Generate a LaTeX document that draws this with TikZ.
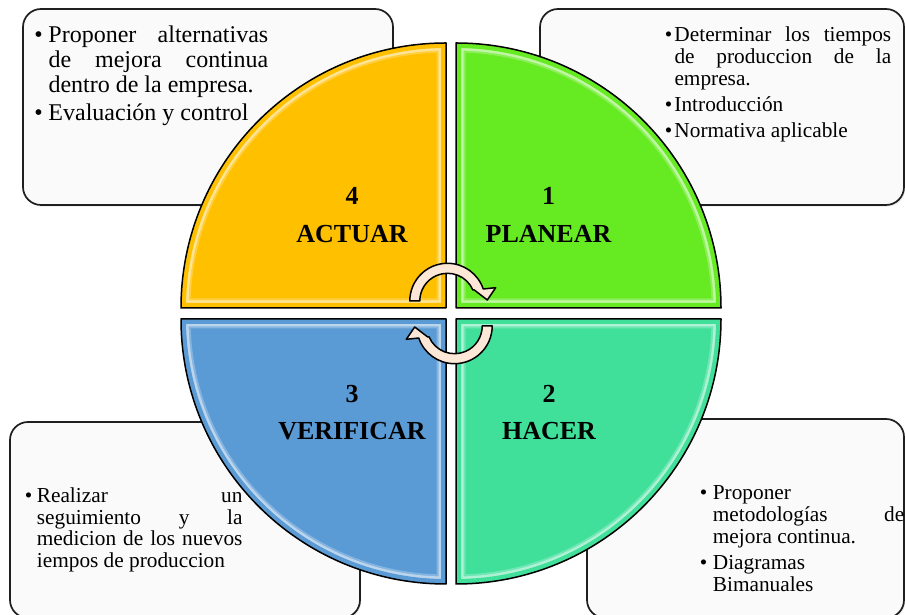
\documentclass[tikz,border=0pt]{standalone}
\usepackage{fontspec}
\setmainfont{Liberation Serif}
\usetikzlibrary{shadows}

\definecolor{actcol}{HTML}{FFC000}
\definecolor{plancol}{HTML}{66EA22}
\definecolor{hacercol}{HTML}{40E09B}
\definecolor{vercol}{HTML}{5B9BD5}
\definecolor{cyclecol}{HTML}{FDE7D6}
\definecolor{boxfill}{HTML}{FAFAFA}

% bullet paragraphs with a hanging indent of #1
\newcommand\firstitem[1]{\hangindent=#1\hangafter=1\makebox[#1][l]{\textbullet}}
\newcommand\bitem[1]{\par\hangindent=#1\hangafter=1\noindent\makebox[#1][l]{\textbullet}}

% quarter disc with a bevel highlight inside its edges
\newcommand\petal[2]{%
  \fill[#1] #2;
  \begin{scope}
    \clip #2;
    \draw[white, opacity=.25, line width=19pt] #2;
    \draw[white, opacity=.45, line width=15pt] #2;
    \draw[#1, line width=10pt] #2;
  \end{scope}
  \draw[black, line width=1.5pt, line join=round] #2;
}

\begin{document}
\begin{tikzpicture}[x=1pt, y=1pt,
  infobox/.style={draw=black!88, line width=1.7pt, rounded corners=18pt,
    fill=boxfill, inner sep=0pt,
    drop shadow={shadow xshift=1.2pt, shadow yshift=-1.6pt, opacity=.18}},
  boxtext/.style={anchor=base west, inner sep=0pt, align=justify},
  qlabel/.style={align=center, inner sep=0pt,
    font=\fontsize{26}{37.5}\selectfont\bfseries},
  cyclearrow/.style={fill=cyclecol, draw=black, line width=1.5pt, line join=round}]

\useasboundingbox (0,0) rectangle (905,615);

% text panels behind the cycle
\node[infobox, minimum width=370pt, minimum height=196pt] (boxTL) at (208,508) {};
\node[infobox, minimum width=364pt, minimum height=196pt] (boxTR) at (722,508) {};
\node[infobox, minimum width=350pt, minimum height=196pt] (boxBL) at (185,95) {};
\node[infobox, minimum width=317pt, minimum height=199pt] (boxBR) at (745.5,96.5) {};

\node[boxtext, text width=234pt, font=\fontsize{24}{25}\selectfont] (txtTL) at (34.1,572.5)
  {\tolerance=10000\hyphenpenalty=10000\parskip=3pt%
   \firstitem{14.2pt}Proponer alternativas\linebreak de mejora continua\linebreak dentro de la empresa.
   \bitem{14.2pt}Evaluación y control\par};

\node[boxtext, text width=226.4pt, font=\fontsize{21.3}{21.7}\selectfont] (txtTR) at (664.6,573.3)
  {\tolerance=10000\hyphenpenalty=10000\parskip=4.3pt%
   \firstitem{9.7pt}Determinar los tiempos\linebreak de produccion de la\linebreak empresa.
   \bitem{9.7pt}Introducción
   \bitem{9.7pt}Normativa aplicable\par};

\node[boxtext, text width=217.7pt, font=\fontsize{21.3}{21.8}\selectfont] (txtBL) at (24.6,112.7)
  {\tolerance=10000\hyphenpenalty=10000%
   \firstitem{12.1pt}Realizar un\linebreak seguimiento y la\linebreak medicion de los nuevos\linebreak iempos de produccion\par};

\node[boxtext, text width=204.4pt, font=\fontsize{21.3}{22}\selectfont] (txtBR) at (699.6,115)
  {\tolerance=10000\hyphenpenalty=10000\parskip=4pt%
   \firstitem{13.1pt}Proponer\linebreak metodologías de\linebreak mejora continua.
   \bitem{13.1pt}Diagramas\linebreak Bimanuales\par};

% the four quarters of the cycle
\def\qAct{(446,307) -- (181,307) arc[start angle=180, end angle=90, radius=265] -- cycle}
\def\qPlan{(456,307) -- (456,572) arc[start angle=90, end angle=0, radius=265] -- cycle}
\def\qVer{(446,296) -- (446,31) arc[start angle=270, end angle=180, radius=265] -- cycle}
\def\qHac{(456,296) -- (721,296) arc[start angle=0, end angle=-90, radius=265] -- cycle}

\petal{actcol}{\qAct}
\petal{plancol}{\qPlan}
\petal{vercol}{\qVer}
\petal{hacercol}{\qHac}

\node[qlabel] (lblAct) at (352,400) {4\\ACTUAR};
\node[qlabel] (lblPlan) at (548.5,400) {1\\PLANEAR};
\node[qlabel] (lblVer) at (352,202.5) {3\\VERIFICAR};
\node[qlabel] (lblHac) at (549,202.5) {2\\HACER};

% curved arrows turning in the middle
\def\cyc{(409.8,314) arc[start angle=180, end angle=18.6, radius=37.7]
  -- (495.7,327.3) -- (487.3,315) -- (474.3,325) -- (472.9,325)
  arc[start angle=23.4, end angle=180, radius=27.7] -- cycle}
\path[cyclearrow] \cyc;
\path[cyclearrow, rotate around={180:(451,301.5)}] \cyc;

\end{tikzpicture}
\end{document}
